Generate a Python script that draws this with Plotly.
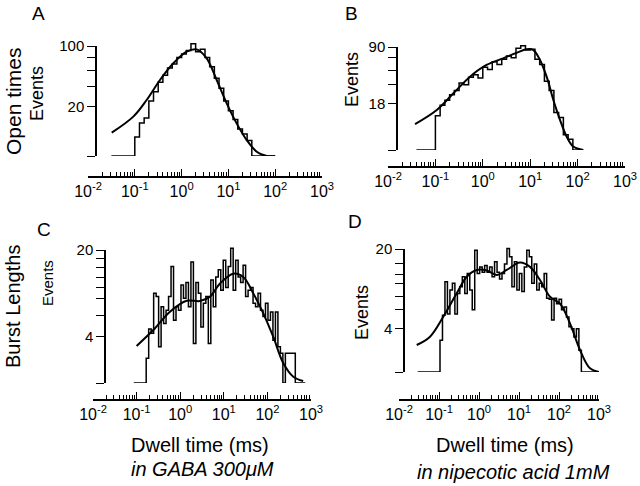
import numpy as np
import plotly.graph_objects as go

# ---------------- data ----------------
decade_vals = [0.01, 0.1, 1, 10, 100, 1000]
decade_text = ['10<sup>-2</sup>', '10<sup>-1</sup>', '10<sup>0</sup>',
               '10<sup>1</sup>', '10<sup>2</sup>', '10<sup>3</sup>']
minor_vals = [m * 10.0 ** e for e in range(-2, 3) for m in range(2, 10)]

# Panel A: open times, GABA
a_bin_start = -1.5      # log10(ms) of first bin edge
a_bin_width = 0.1       # decades per bin
a_counts = [0, 0, 0, 0, 0, 3, 9, 12, 25, 34, 45, 54, 64, 70, 80, 86, 92, 104, 90, 94,
            80, 66, 50, 38, 25, 17, 11, 6, 4, 2, 0, 0, 0, 0, 0]
a_fit_ms = [0.0321, 0.0929, 0.179, 0.345, 0.665, 1.285, 2.10, 3.44, 5.62, 9.20,
            15.0, 24.6, 40.3, 65.8, 100]
a_fit_counts = [4.49, 12.8, 25.9, 47.7, 71, 89.9, 94, 78.9, 47.7, 22.9,
                8.8, 2.1, 0.15, 0, 0]
a_ylabel_vals = [20, 100]
a_yminor = [0, 40, 60, 80]

# Panel B: open times, nipecotic acid
b_bin_start = -1.4
b_bin_width = 0.1
b_counts = [0, 0, 0, 0, 10, 17, 21, 26, 30, 38, 36, 45, 48, 44, 58, 55, 66, 62, 70, 75,
            72, 88, 92, 85, 86, 70, 62, 40, 30, 12, 9, 2, 1, 0, 0]
b_fit_ms = [0.0372, 0.107, 0.240, 0.537, 1.20, 2.69, 5.13, 8.32, 11.5, 15.8,
            22.4, 30.9, 42.7, 58.9, 81.3, 132]
b_fit_counts = [5.7, 13.6, 27.3, 45.6, 61.3, 71.3, 80, 86, 85, 70,
                45, 21, 7.6, 1.5, 0.1, 0]
b_ylabel_vals = [18, 90]
b_yminor = [0, 36, 54, 72]

# Panel C: burst lengths, GABA
c_bin_start = -1.065
c_bin_width = 0.057
c_counts = [0, 0, 0, 0, 0,
            1.5, 5, 4.4, 10.9, 10.3, 2.7, 8.5, 5.8, 7.9, 10.3,
            16.3, 6.3, 8.5, 7.9, 12.5, 10, 13, 8.5, 17.3, 3.1,
            13, 10.9, 5.3, 9.1, 10.3, 3.1, 13.5, 8.5, 14.1, 15.6,
            11.5, 17.7, 12, 16.3, 20.4, 11.5, 17.7, 14.1, 13, 16.6,
            10.3, 11.5, 12, 9.1, 8.5, 10.9, 7.9, 6.9, 9.1, 6.3,
            7.6, 3.5, 7.6, 2.7, 2,
            0, 2, 2, 2, 2, 0, 0, 0, 0]
c_fit_ms = [0.1, 0.2415, 0.583, 1.41, 2.84, 4.82, 8.18, 16.5, 28.0, 47.5,
            80.5, 136, 232, 393, 661]
c_fit_counts = [2.8, 4.85, 7.67, 9.54, 9.5, 10.3, 12.8, 14.8, 14.1, 10.9,
                7.4, 3.94, 1.06, 0.18, 0.03]
c_ylabel_vals = [4, 20]
c_yminor = [0, 7, 10, 12, 14, 16, 18]

# Panel D: burst lengths, nipecotic acid
d_bin_start = -1.533
d_bin_width = 0.062
d_counts = [0, 0, 0, 0, 0, 0, 0, 0, 0,
            2.5, 6.1, 12.4, 6.3, 10.7, 12.1, 6.3, 10, 11.4, 13.5,
            10, 14.2, 10.7, 7, 19.7, 14.2, 15.7, 14.5, 16, 14.5,
            15.7, 13.5, 16.9, 14.5, 13, 14.2, 16.4, 20.1, 18.1, 11.4,
            16.9, 10.7, 14.2, 10.4, 15.7, 19.7, 18.1, 12.1, 16.4, 10.7,
            12.1, 11.4, 14.2, 9.1, 8.9, 5.3, 9.1, 8.1, 8.9, 7,
            7.5, 5.8, 4.3, 4, 2.9, 4, 1.4,
            0, 0, 0, 0, 0, 0, 0]
d_fit_ms = [0.0277, 0.0596, 0.128, 0.277, 0.492, 0.875, 1.556, 2.77, 4.92, 10.6,
            18.8, 33.5, 59.6, 106, 188, 335, 596, 1000]
d_fit_counts = [1.94, 2.93, 5.84, 10.05, 13.5, 15, 14.9, 13.9, 15, 16.7,
                15.7, 12.8, 9.4, 8.1, 4.8, 1.42, 0.09, 0]
d_ylabel_vals = [4, 20]
d_yminor = [0, 7, 9.5, 12, 14, 16.5]

# ---------------- figure ----------------
W, H = 640, 486
FONT = 'Liberation Sans, Arial, Helvetica, sans-serif'


def px2x(px):
    return px / W


def py2y(py):
    return 1 - py / H


panels = [
    dict(start=a_bin_start, width=a_bin_width, counts=a_counts, fx=a_fit_ms, fy=a_fit_counts,
         yt=a_ylabel_vals, ym=a_yminor, p=0.5,
         x0=88, x1=322, xline=177, yx=96, ybot=156, ytop=46, extra=16),
    dict(start=b_bin_start, width=b_bin_width, counts=b_counts, fx=b_fit_ms, fy=b_fit_counts,
         yt=b_ylabel_vals, ym=b_yminor, p=0.5,
         x0=388, x1=625, xline=167, yx=397, ybot=150, ytop=47, extra=17),
    dict(start=c_bin_start, width=c_bin_width, counts=c_counts, fx=c_fit_ms, fy=c_fit_counts,
         yt=c_ylabel_vals, ym=c_yminor, p=0.65,
         x0=93, x1=311, xline=400, yx=105, ybot=383, ytop=250, extra=20),
    dict(start=d_bin_start, width=d_bin_width, counts=d_counts, fx=d_fit_ms, fy=d_fit_counts,
         yt=d_ylabel_vals, ym=d_yminor, p=0.65,
         x0=399, x1=599, xline=400, yx=404, ybot=372, ytop=249, extra=20),
]

fig = go.Figure()
layout = {}

for k, P in enumerate(panels):
    xi = k + 1
    yv = 2 * k + 1          # visible y axis
    yd = 2 * k + 2          # data y axis (taller, hidden) so spikes may overshoot
    xname = 'x' if xi == 1 else f'x{xi}'
    yvname = 'y' if yv == 1 else f'y{yv}'
    ydname = f'y{yd}'
    p = P['p']

    counts = np.asarray(P['counts'], float)
    n = len(counts)
    edges = 10 ** (P['start'] + P['width'] * np.arange(n + 1))
    hy = np.append(counts, counts[-1]) ** p

    fig.add_trace(go.Scatter(x=edges, y=hy, mode='lines', line=dict(color='black', width=1.5, shape='hv'),
                             xaxis=xname, yaxis=ydname, showlegend=False, hoverinfo='skip'))
    fig.add_trace(go.Scatter(x=P['fx'], y=np.asarray(P['fy'], float) ** p, mode='lines',
                             line=dict(color='black', width=2, shape='spline', smoothing=1.0),
                             xaxis=xname, yaxis=yvname, showlegend=False, hoverinfo='skip'))

    top = max(P['yt']) ** p
    key_x = 'xaxis' if xi == 1 else f'xaxis{xi}'
    layout[key_x] = dict(
        type='log', range=[-2, 3], domain=[px2x(P['x0']), px2x(P['x1'])],
        anchor='free', position=py2y(P['xline']), automargin=False,
        showline=True, linecolor='black', linewidth=1.5,
        ticks='inside', ticklen=7, tickwidth=1.3, tickcolor='black',
        tickmode='array', tickvals=decade_vals, ticktext=decade_text,
        tickfont=dict(family=FONT, size=16, color='black'),
        showgrid=False, zeroline=False,
        minor=dict(ticks='inside', ticklen=4, tickwidth=1, tickcolor='black',
                   tickmode='array', tickvals=minor_vals, showgrid=False),
    )
    key_yv = 'yaxis' if yv == 1 else f'yaxis{yv}'
    layout[key_yv] = dict(
        range=[0, top], domain=[py2y(P['ybot']), py2y(P['ytop'])],
        anchor='free', position=px2x(P['yx']), automargin=False,
        showline=True, linecolor='black', linewidth=1.5,
        ticks='outside', ticklen=8, tickwidth=1.3, tickcolor='black',
        tickmode='array', tickvals=[v ** p for v in P['yt']], ticktext=[str(v) for v in P['yt']],
        tickfont=dict(family=FONT, size=15, color='black'),
        showgrid=False, zeroline=False,
        minor=dict(ticks='outside', ticklen=8, tickwidth=1.3, tickcolor='black',
                   tickmode='array', tickvals=[v ** p for v in P['ym']], showgrid=False),
    )
    span = P['ybot'] - P['ytop']
    layout[f'yaxis{yd}'] = dict(
        range=[0, top * (span + P['extra']) / span],
        domain=[py2y(P['ybot']), py2y(P['ytop'] - P['extra'])],
        anchor='free', position=px2x(P['yx']), visible=False, automargin=False,
        showgrid=False, zeroline=False,
    )


def ann(text, x, y, size, angle=0, italic=False):
    return dict(text=f'<i>{text}</i>' if italic else text, x=px2x(x), y=py2y(y),
                xref='paper', yref='paper', xanchor='center', yanchor='middle',
                showarrow=False, textangle=angle,
                font=dict(family=FONT, size=size, color='black'))


annotations = [
    ann('A', 38, 14, 19), ann('B', 351, 13, 19), ann('C', 44, 230, 19), ann('D', 355, 221, 19),
    ann('Open times', 13, 102, 21, -90), ann('Burst Lengths', 13, 307, 20, -90),
    ann('Events', 37, 94, 18, -90), ann('Events', 352, 80, 18, -90),
    ann('Events', 47, 283, 15, -90), ann('Events', 362, 313, 18, -90),
    ann('Dwell time (ms)', 200, 445, 20), ann('Dwell time (ms)', 505, 445, 20),
    ann('in GABA 300μM', 202, 469, 20, italic=True),
    ann('in nipecotic acid 1mM', 513, 472, 20, italic=True),
]

fig.update_layout(template='none', width=W, height=H, autosize=False,
                  margin=dict(l=0, r=0, t=0, b=0, pad=0),
                  paper_bgcolor='white', plot_bgcolor='rgba(0,0,0,0)',
                  annotations=annotations, showlegend=False, **layout)

# remove the browser's default 8px body margin so the figure fills the window
fig.write_html('out.html', config={'displayModeBar': False},
               post_script="document.body.style.margin='0px';")
